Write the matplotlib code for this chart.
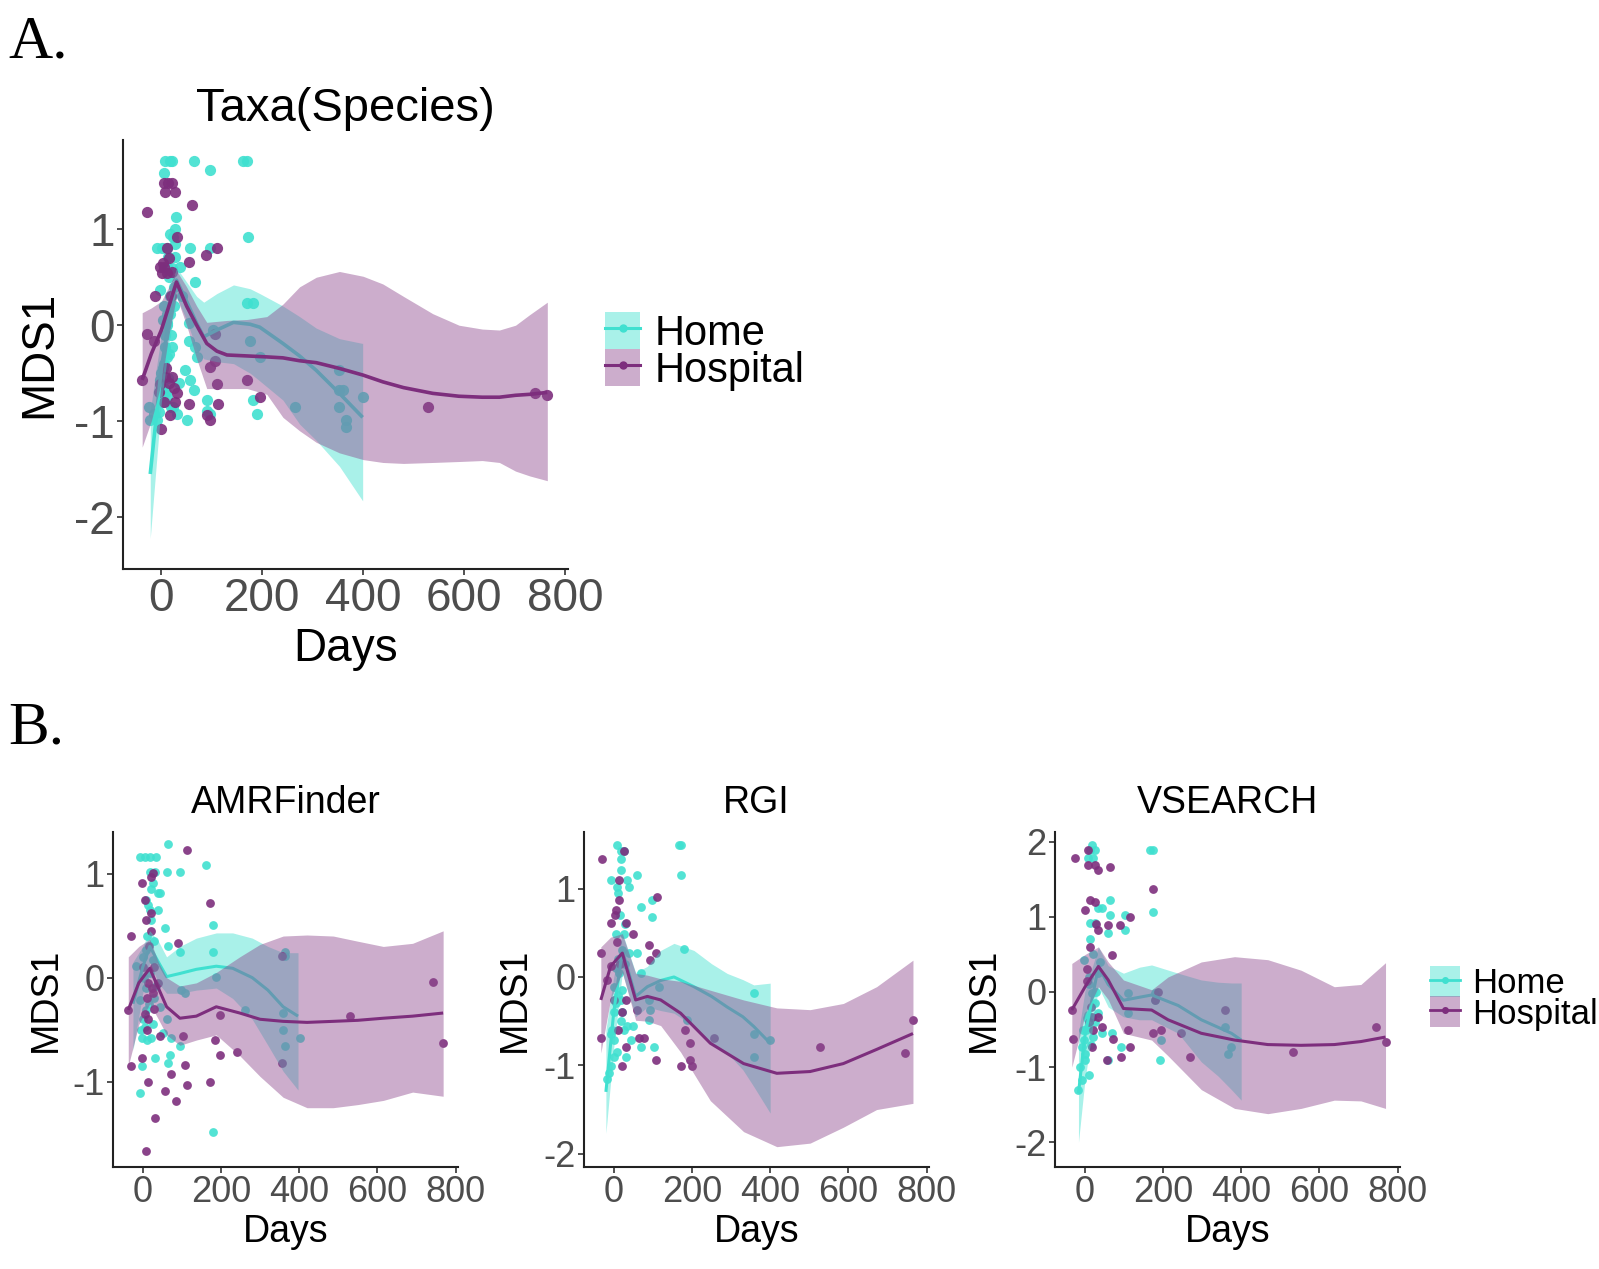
import matplotlib
matplotlib.use("Agg")
import matplotlib.pyplot as plt
from matplotlib.patches import Patch
from matplotlib.lines import Line2D
from matplotlib.legend_handler import HandlerTuple

plt.rcParams['font.family'] = ['Liberation Sans', 'DejaVu Sans']
plt.rcParams['axes.unicode_minus'] = False

HOME_C = "#40E0D0"
HOSP_C = "#7D2E7D"
HOME_BAND = "#40E0D0"
HOSP_BAND = "#8E4A8E"
groups = ["Home", "Hospital"]

# ---- Panel A: Taxa(Species) ----  (day, MDS1)
a_home_pts = [(8, 1.71), (18, 1.71), (21, 1.71), (64, 1.71), (162, 1.71), (169, 1.71),
              (97, 1.62), (5, 1.59), (30, 1.13), (28, 1.0), (172, 0.92), (23, 0.92),
              (-9, 0.80), (1, 0.80), (11, 0.80), (57, 0.80), (97, 0.80),
              (14, 0.71), (28, 0.71), (11, 0.61), (37, 0.61), (67, 0.45), (-2, 0.37),
              (169, 0.23), (182, 0.23), (11, 0.12), (18, 0.12), (11, 0.02), (54, 0.02),
              (103, -0.05), (54, -0.16), (176, -0.16), (8, -0.23), (21, -0.23), (67, -0.23),
              (11, -0.33), (70, -0.33), (195, -0.33), (47, -0.47), (353, -0.47),
              (-2, -0.57), (57, -0.57), (64, -0.68), (353, -0.68), (360, -0.68),
              (11, -0.75), (399, -0.75), (90, -0.78), (182, -0.78),
              (-25, -0.85), (24, -0.85), (264, -0.85), (353, -0.85),
              (-15, -0.92), (31, -0.92), (97, -0.92), (189, -0.92),
              (-22, -0.99), (-9, -0.99), (51, -0.99), (366, -0.99), (366, -1.06), (90, -0.89),
              (15, 0.5), (25, 0.4), (5, 0.2), (20, -0.1), (3, -0.45), (35, -0.6), (40, 0.3), (10, -0.7),
              (0, -0.5), (5, -0.4), (8, -0.1), (12, 0.0), (15, -0.3), (18, 0.3), (22, 0.6), (25, 0.2),
              (2, -0.8), (6, -0.65), (14, -0.55), (20, -0.85), (-5, -0.9), (28, 0.85), (17, 0.95), (3, 0.05)]
a_hosp_pts = [(5, 1.48), (14, 1.48), (21, 1.48), (8, 1.39), (28, 1.39), (61, 1.25), (-28, 1.18),
              (31, 0.92), (11, 0.80), (110, 0.80), (89, 0.73), (54, 0.66), (-2, 0.61), (5, 0.61),
              (1, 0.54), (11, 0.54), (-12, 0.30), (-28, -0.09), (107, -0.09), (-15, -0.16),
              (107, -0.37), (97, -0.44), (8, -0.54), (21, -0.54), (-38, -0.57), (169, -0.57),
              (-2, -0.61), (110, -0.61), (31, -0.71), (741, -0.71), (765, -0.73), (195, -0.75),
              (54, -0.82), (113, -0.82), (528, -0.85), (18, -0.94), (90, -0.94), (97, -0.99), (0, -1.08),
              (15, 0.7), (20, 0.3), (25, -0.65), (5, -0.8),
              (10, -0.45), (28, -0.8), (-5, -0.7), (15, -0.6), (22, 0.55), (3, 0.65)]
a_home_fit_day = [-22, -10, 0, 15, 30, 50, 70, 84, 110, 143, 176, 195, 241, 274, 307, 353, 399]
a_home_fit = [-1.55, -0.95, -0.45, 0.05, 0.47, 0.25, 0.02, -0.12, -0.05, 0.03, 0.01, -0.02, -0.19, -0.32, -0.47, -0.71, -0.96]
a_home_hi = [-0.90, -0.45, -0.10, 0.30, 0.60, 0.45, 0.30, 0.24, 0.33, 0.42, 0.38, 0.33, 0.20, 0.09, -0.03, -0.14, -0.19]
a_home_lo = [-2.22, -1.45, -0.80, -0.20, 0.30, 0.05, -0.25, -0.35, -0.38, -0.40, -0.50, -0.58, -0.78, -1.03, -1.20, -1.47, -1.83]
a_hosp_fit_day = [-38, -20, 0, 15, 30, 50, 70, 90, 110, 130, 170, 209, 241, 274, 307, 353, 400, 439, 480, 538, 590, 636, 670, 702, 730, 765]
a_hosp_fit = [-0.57, -0.30, -0.05, 0.20, 0.45, 0.20, 0.00, -0.19, -0.27, -0.31, -0.32, -0.33, -0.34, -0.37, -0.39, -0.45, -0.52, -0.59, -0.65, -0.71, -0.74, -0.75, -0.75, -0.73, -0.72, -0.70]
a_hosp_hi = [0.13, 0.18, 0.25, 0.40, 0.57, 0.40, 0.20, 0.03, 0.04, 0.05, 0.06, 0.09, 0.22, 0.40, 0.50, 0.56, 0.51, 0.43, 0.30, 0.12, 0.00, -0.04, -0.05, 0.00, 0.11, 0.24]
a_hosp_lo = [-1.27, -1.00, -0.60, -0.10, 0.30, 0.00, -0.35, -0.66, -0.66, -0.66, -0.66, -0.72, -0.96, -1.10, -1.22, -1.33, -1.40, -1.43, -1.44, -1.43, -1.42, -1.41, -1.43, -1.52, -1.57, -1.62]

# ---- Panel B: AMRFinder ----
amr_home_pts = [(65, 1.28), (-8, 1.16), (5, 1.16), (18, 1.16), (35, 1.16), (18, 1.02), (31, 1.02), (61, 1.02),
                (95, 1.02), (163, 1.08), (26, 0.91), (39, 0.81), (44, 0.81), (9, 0.75), (18, 0.65), (39, 0.65),
                (56, 0.48), (180, 0.51), (65, 0.30), (95, 0.25), (180, 0.25), (363, 0.25), (363, 0.21), (-16, 0.11),
                (188, 0.01), (99, -0.12), (107, -0.15), (261, -0.31), (9, -0.31), (359, -0.34), (1, -0.40), (61, -0.40),
                (359, -0.50), (402, -0.58), (-3, -0.58), (22, -0.58), (73, -0.58), (363, -0.66), (95, -0.66),
                (69, -0.74), (31, -0.77), (65, -0.82), (-3, -0.85), (-8, -1.11), (180, -1.48),
                (9, 0.27), (26, 0.17), (18, 0.04), (35, -0.08), (-8, -0.21), (44, -0.28), (5, -0.47), (52, -0.53),
                (3, 0.0), (8, -0.1), (12, 0.4), (15, -0.25), (20, 0.55), (25, -0.45), (30, 0.35), (-5, -0.5),
                (0, 0.2), (10, -0.6), (22, 0.85), (28, -0.2), (14, 0.7)]
amr_hosp_pts = [(112, 1.23), (-3, 0.91), (22, 0.97), (26, 1.01), (5, 0.75), (171, 0.72), (22, 0.62), (-29, 0.40),
                (90, 0.33), (355, 0.21), (743, -0.04), (14, -0.05), (39, -0.05), (26, -0.15), (-37, -0.31),
                (197, -0.36), (529, -0.37), (14, -0.40), (44, -0.56), (103, -0.56), (184, -0.60), (768, -0.63),
                (240, -0.71), (197, -0.74), (-3, -0.77), (355, -0.82), (107, -0.84), (-29, -0.85), (73, -0.93),
                (14, -1.00), (171, -1.00), (112, -1.03), (56, -1.09), (86, -1.19), (31, -1.35), (9, -1.67),
                (20, 0.45), (10, -0.2), (30, -0.3),
                (0, 0.1), (8, 0.55), (16, 0.3), (24, -0.1), (12, -0.5), (30, 0.1), (5, -0.35)]
amr_home_fit_day = [-25, 0, 18, 40, 61, 95, 137, 188, 230, 280, 320, 359, 397]
amr_home_fit = [-0.25, 0.10, 0.30, 0.15, 0.01, 0.04, 0.08, 0.11, 0.09, 0.0, -0.12, -0.28, -0.37]
amr_home_hi = [0.15, 0.30, 0.45, 0.35, 0.20, 0.30, 0.38, 0.43, 0.43, 0.38, 0.30, 0.24, 0.24]
amr_home_lo = [-0.70, -0.15, 0.15, -0.05, -0.15, -0.15, -0.12, -0.10, -0.20, -0.40, -0.65, -0.90, -1.08]
amr_hosp_fit_day = [-37, -10, 18, 40, 61, 95, 137, 188, 248, 300, 359, 420, 487, 550, 615, 690, 768]
amr_hosp_fit = [-0.31, -0.05, 0.09, -0.10, -0.28, -0.39, -0.37, -0.28, -0.34, -0.40, -0.42, -0.43, -0.42, -0.41, -0.39, -0.37, -0.34]
amr_hosp_hi = [0.20, 0.30, 0.37, 0.15, 0.0, -0.08, -0.05, 0.05, 0.20, 0.32, 0.40, 0.41, 0.40, 0.35, 0.30, 0.33, 0.45]
amr_hosp_lo = [-0.85, -0.45, -0.25, -0.40, -0.55, -0.65, -0.60, -0.55, -0.75, -0.95, -1.15, -1.25, -1.25, -1.22, -1.18, -1.10, -1.14]

# ---- Panel B: RGI ----
rgi_home_pts = [(9, 1.49), (166, 1.49), (171, 1.49), (18, 1.43), (26, 1.43), (18, 1.34), (18, 1.21), (60, 1.15),
                (171, 1.15), (-8, 1.10), (35, 1.10), (9, 1.02), (39, 1.02), (99, 0.87), (69, 0.79), (99, 0.68),
                (5, 0.49), (26, 0.49), (179, 0.32), (39, 0.27), (60, 0.27), (14, 0.04), (69, 0.04), (1, -0.11),
                (115, -0.11), (358, -0.18), (18, -0.26), (90, -0.26), (94, -0.37), (90, -0.49), (188, -0.49),
                (35, -0.56), (48, -0.56), (358, -0.64), (-8, -0.64), (400, -0.71), (1, -0.71), (43, -0.71),
                (69, -0.79), (103, -0.79), (358, -0.90), (1, -0.90), (31, -0.90), (-8, -1.01), (-12, -1.09),
                (-16, -1.16), (10, 0.2), (20, -0.4), (5, -0.3), (30, 0.6),
                (5, 0.1), (10, -0.2), (15, 0.7), (20, 0.3), (25, -0.6), (0, -0.4), (8, -0.85), (12, 0.95),
                (22, -0.15), (-4, -0.6), (28, 0.15), (18, -0.5)]
rgi_hosp_pts = [(26, 1.43), (-29, 1.34), (14, 1.10), (111, 0.91), (14, 0.87), (5, 0.76), (-8, 0.61), (31, 0.61),
                (48, 0.49), (90, 0.36), (-33, 0.27), (107, 0.27), (94, 0.19), (-8, 0.12), (-16, -0.03), (1, -0.26),
                (31, -0.26), (60, -0.37), (765, -0.49), (183, -0.60), (-33, -0.69), (65, -0.69), (77, -0.69),
                (256, -0.69), (196, -0.75), (31, -0.79), (527, -0.79), (744, -0.86), (107, -0.94), (196, -0.94),
                (171, -1.01), (200, -1.01), (22, -1.01),
                (8, 0.4), (15, 0.15), (22, -0.4), (2, 0.7), (12, -0.6)]
rgi_home_fit_day = [-20, 0, 22, 56, 86, 120, 154, 205, 250, 290, 330, 358, 400]
rgi_home_fit = [-1.3, -0.40, 0.30, -0.22, -0.11, -0.04, 0.0, -0.11, -0.22, -0.34, -0.45, -0.56, -0.75]
rgi_home_hi = [-0.6, 0.0, 0.50, 0.05, 0.12, 0.30, 0.38, 0.30, 0.15, 0.04, -0.03, -0.09, -0.07]
rgi_home_lo = [-1.77, -0.8, 0.05, -0.45, -0.34, -0.38, -0.41, -0.56, -0.75, -0.86, -1.05, -1.24, -1.54]
rgi_hosp_fit_day = [-33, -8, 22, 56, 86, 120, 171, 247, 332, 417, 502, 587, 672, 765]
rgi_hosp_fit = [-0.26, 0.12, 0.27, -0.26, -0.22, -0.26, -0.41, -0.75, -0.98, -1.09, -1.07, -0.98, -0.82, -0.64]
rgi_hosp_hi = [0.34, 0.45, 0.49, 0.04, 0.02, -0.02, -0.05, -0.15, -0.26, -0.35, -0.37, -0.30, -0.11, 0.19]
rgi_hosp_lo = [-0.86, -0.25, 0.05, -0.49, -0.50, -0.55, -0.85, -1.40, -1.75, -1.92, -1.88, -1.70, -1.50, -1.43]

# ---- Panel B: VSEARCH ----
vs_home_pts = [(18, 1.96), (14, 1.89), (26, 1.89), (166, 1.89), (175, 1.89), (9, 1.78), (22, 1.78), (65, 1.23),
               (35, 1.12), (43, 1.12), (175, 1.07), (65, 1.03), (103, 1.03), (14, 0.92), (26, 0.92), (103, 0.83),
               (60, 0.78), (-3, 0.43), (35, 0.25), (18, -0.02), (111, -0.02), (179, -0.02), (179, -0.11),
               (35, -0.28), (111, -0.28), (358, -0.46), (9, -0.46), (43, -0.55), (69, -0.55), (-3, -0.64),
               (196, -0.64), (375, -0.73), (-8, -0.73), (94, -0.73), (366, -0.82), (1, -0.82), (192, -0.91),
               (60, -0.91), (-12, -1.00), (-8, -1.17), (-16, -1.31), (10, 0.1), (25, -0.15), (5, -0.35), (40, 0.4),
               (3, -0.5), (8, -0.3), (12, 0.2), (16, -0.7), (20, 0.5), (25, -0.4), (0, -0.9), (-5, -0.5),
               (30, 0.0), (10, -1.1), (14, 0.7), (22, -0.6)]
vs_hosp_pts = [(-25, 1.78), (9, 1.89), (9, 1.69), (26, 1.69), (35, 1.63), (65, 1.67), (175, 1.37), (14, 1.23),
               (1, 1.09), (116, 1.00), (60, 0.89), (90, 0.89), (35, 0.83), (14, 0.60), (69, 0.49), (5, 0.14),
               (188, 0.00), (179, -0.11), (-33, -0.24), (358, -0.24), (18, -0.33), (35, -0.33), (43, -0.46),
               (111, -0.51), (196, -0.51), (175, -0.55), (247, -0.55), (-29, -0.62), (73, -0.62), (18, -0.73),
               (116, -0.73), (532, -0.80), (94, -0.86), (268, -0.86), (56, -0.91), (744, -0.47), (769, -0.67),
               (10, -0.4), (20, -0.5), (28, 0.9), (5, 0.3), (15, -0.2), (25, 1.2)]
vs_home_fit_day = [-16, 0, 35, 60, 99, 140, 171, 239, 298, 341, 375, 400]
vs_home_fit = [-1.35, -0.60, 0.34, 0.10, -0.11, -0.07, -0.04, -0.18, -0.37, -0.47, -0.55, -0.64]
vs_home_hi = [-0.55, 0.0, 0.60, 0.35, 0.25, 0.33, 0.36, 0.25, 0.16, 0.13, 0.12, 0.12]
vs_home_lo = [-2.0, -1.2, 0.07, -0.20, -0.33, -0.37, -0.37, -0.55, -0.93, -1.12, -1.30, -1.44]
vs_hosp_fit_day = [-33, 1, 35, 60, 99, 171, 213, 298, 383, 468, 553, 638, 706, 769]
vs_hosp_fit = [-0.24, 0.07, 0.34, 0.16, -0.22, -0.24, -0.37, -0.55, -0.64, -0.70, -0.71, -0.70, -0.66, -0.60]
vs_hosp_hi = [0.38, 0.50, 0.60, 0.40, 0.16, 0.03, 0.20, 0.40, 0.47, 0.43, 0.29, 0.07, 0.10, 0.39]
vs_hosp_lo = [-1.0, -0.3, 0.07, -0.10, -0.55, -0.64, -0.85, -1.30, -1.55, -1.62, -1.55, -1.44, -1.45, -1.55]

W, H = 1599, 1269
fig = plt.figure(figsize=(W / 100, H / 100), dpi=100)


def px_axes(left, top, right, bottom):
    return fig.add_axes([left / W, 1 - bottom / H, (right - left) / W, (bottom - top) / H])


def draw_panel(ax, home_pts, hosp_pts, home_fit, hosp_fit, title, ylim, yticks,
               fs_tick, fs_lab, fs_title, msize, lw, ylab_x):
    for pts, c in [(home_pts, HOME_C), (hosp_pts, HOSP_C)]:
        xs, ys = zip(*pts)
        ax.scatter(xs, ys, s=msize, color=c, alpha=0.9, linewidths=0, zorder=2)
    for (d, f, lo, hi), c, bc in [(home_fit, HOME_C, HOME_BAND), (hosp_fit, HOSP_C, HOSP_BAND)]:
        ax.fill_between(d, lo, hi, color=bc, alpha=0.45, linewidth=0, zorder=3)
        ax.plot(d, f, color=c, lw=lw, zorder=3, solid_capstyle='butt')
    ax.set_xlim(-76, 806)
    ax.set_ylim(*ylim)
    ax.set_xticks([0, 200, 400, 600, 800])
    ax.set_yticks(yticks)
    for s in ['top', 'right']:
        ax.spines[s].set_visible(False)
    for s in ['left', 'bottom']:
        ax.spines[s].set_linewidth(1.5)
        ax.spines[s].set_color('#222222')
    ax.tick_params(labelsize=fs_tick, labelcolor='#4D4D4D', color='#333333',
                   length=4, width=1.2, pad=2)
    ax.set_title(title, fontsize=fs_title, pad=14)
    ax.set_xlabel("Days", fontsize=fs_lab, va='baseline')
    ax.set_ylabel("MDS1", fontsize=fs_lab, va='center')
    ax.yaxis.set_label_coords(ylab_x, 0.5)


axA = px_axes(123, 140, 568, 569)
draw_panel(axA, a_home_pts, a_hosp_pts,
           (a_home_fit_day, a_home_fit, a_home_lo, a_home_hi),
           (a_hosp_fit_day, a_hosp_fit, a_hosp_lo, a_hosp_hi),
           "Taxa(Species)", (-2.54, 1.93), [-2, -1, 0, 1], 33, 33, 34, 65, 2.6, -84 / 445)
axA.xaxis.set_label_coords(0.5, -(661 - 569) / 429)

b_panels = [
    ("AMRFinder", 113, amr_home_pts, amr_hosp_pts,
     (amr_home_fit_day, amr_home_fit, amr_home_lo, amr_home_hi),
     (amr_hosp_fit_day, amr_hosp_fit, amr_hosp_lo, amr_hosp_hi), (-1.82, 1.40), [-1, 0, 1], -67 / 345),
    ("RGI", 584, rgi_home_pts, rgi_hosp_pts,
     (rgi_home_fit_day, rgi_home_fit, rgi_home_lo, rgi_home_hi),
     (rgi_hosp_fit_day, rgi_hosp_fit, rgi_hosp_lo, rgi_hosp_hi), (-2.15, 1.64), [-2, -1, 0, 1], -69 / 345),
    ("VSEARCH", 1055, vs_home_pts, vs_hosp_pts,
     (vs_home_fit_day, vs_home_fit, vs_home_lo, vs_home_hi),
     (vs_hosp_fit_day, vs_hosp_fit, vs_hosp_lo, vs_hosp_hi), (-2.33, 2.13), [-2, -1, 0, 1, 2], -71 / 345),
]
for title, left, hp, sp, hf, sf, yl, yt, ylx in b_panels:
    ax = px_axes(left, 832, left + 345, 1167)
    draw_panel(ax, hp, sp, hf, sf, title, yl, yt, 26, 27, 27, 40, 2.2, ylx)
    ax.xaxis.set_label_coords(0.5, -(1242 - 1167) / 335)


def legend_handles(ms, lw):
    hs = []
    for c, bc in [(HOME_C, HOME_BAND), (HOSP_C, HOSP_BAND)]:
        patch = Patch(facecolor=bc, alpha=0.45, linewidth=0)
        line = Line2D([], [], color=c, lw=lw, marker='o', markersize=ms)
        hs.append((patch, line))
    return hs


fig.legend(legend_handles(5, 2.2), groups, loc='upper left', bbox_to_anchor=(605 / W, 1 - 312 / H),
           frameon=False, fontsize=30, handlelength=0.85, handleheight=1.0, labelspacing=-0.12,
           handletextpad=0.35, borderpad=0, borderaxespad=0,
           handler_map={tuple: HandlerTuple(ndivide=1)})
fig.legend(legend_handles(4, 2.0), groups, loc='upper left', bbox_to_anchor=(1430 / W, 1 - 966 / H),
           frameon=False, fontsize=25, handlelength=0.85, handleheight=1.0, labelspacing=-0.12,
           handletextpad=0.35, borderpad=0, borderaxespad=0,
           handler_map={tuple: HandlerTuple(ndivide=1)})

fig.text(8 / W, 1 - 57 / H, "A.", family=['Liberation Serif', 'DejaVu Serif'], fontsize=44, va='baseline')
fig.text(8 / W, 1 - 743 / H, "B.", family=['Liberation Serif', 'DejaVu Serif'], fontsize=44, va='baseline')

fig.savefig("out.png", dpi=100)
